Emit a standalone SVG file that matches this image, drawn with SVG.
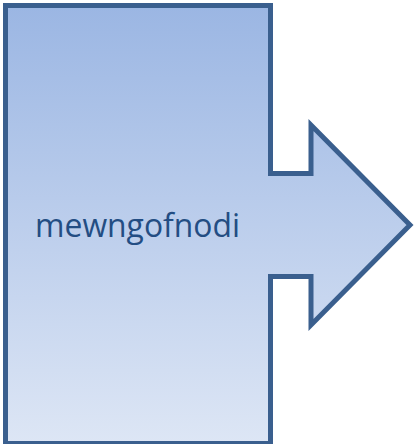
<svg xmlns="http://www.w3.org/2000/svg" width="414" height="444" viewBox="0 0 414 444">
<defs>
<linearGradient id="g" x1="0" y1="0" x2="0" y2="1">
<stop offset="0" stop-color="#9bb6e3"/>
<stop offset="1" stop-color="#dde6f5"/>
</linearGradient>
<style>
.shape{fill:url(#g);stroke:#3a5f8e;stroke-width:5;stroke-linejoin:miter}
.lbl{font-family:"Open Sans","Liberation Sans",sans-serif;font-size:32px;fill:#234d83}
</style>
</defs>
<g id="node-arrow">
<path class="shape" d="M5.5,5.5 H270.5 V173.5 H311 V125 L410,225 L311,325 V276.5 H270.5 V443.5 H5.5 Z"/>
<text class="lbl" x="35" y="237" textLength="205" lengthAdjust="spacingAndGlyphs">mewngofnodi</text>
</g>
<g id="connectors"/>
</svg>
